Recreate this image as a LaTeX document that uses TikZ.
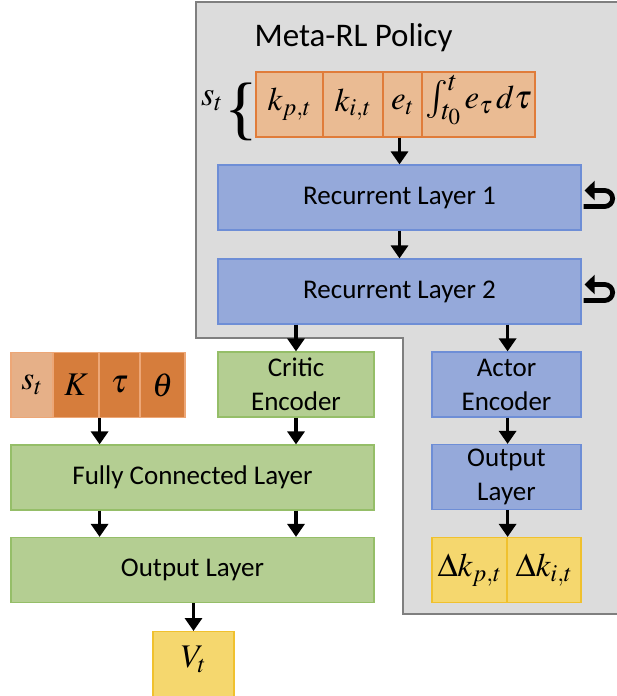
\documentclass[tikz,border=0pt]{standalone}
\usepackage{mathptmx}
\usepackage[no-math]{fontspec}
\setmainfont{Carlito}
\newfontfamily\bracefont{Liberation Serif}
\usetikzlibrary{arrows.meta,calc}
\definecolor{bggray}{HTML}{DCDCDC}
\definecolor{bgline}{HTML}{7F7F7F}
\definecolor{orl}{HTML}{EABB93}
\definecolor{orlline}{HTML}{E07C3A}
\definecolor{orm}{HTML}{E6B088}
\definecolor{ord}{HTML}{D67D3C}
\definecolor{ordline}{HTML}{EDA777}
\definecolor{bluef}{HTML}{95A9DA}
\definecolor{bluel}{HTML}{6E8ED6}
\definecolor{greenf}{HTML}{B4CE92}
\definecolor{greenl}{HTML}{95BE68}
\definecolor{yelf}{HTML}{F5D76E}
\definecolor{yell}{HTML}{F0C12E}
\begin{document}
\begin{tikzpicture}[x=1pt,y=1pt,
  box/.style={draw,line width=1.2pt,inner sep=0pt,minimum height=65pt,align=center,
    font=\fontsize{27}{34}\selectfont},
  mcell/.style={draw,line width=1.2pt,inner sep=0pt,minimum height=65pt,
    font=\fontsize{33}{38}\selectfont},
  stcell/.style={mcell,fill=orl,draw=orlline},
  lcell/.style={mcell,fill=ord,draw=ordline},
  ycell/.style={mcell,fill=yelf,draw=yell},
  bluebox/.style={box,fill=bluef,draw=bluel},
  greenbox/.style={box,fill=greenf,draw=greenl},
  arr/.style={line width=3.2pt,-{Triangle[width=17pt,length=13pt]}},
  looparr/.style={line width=4.8pt,-{Triangle[width=19pt,length=10pt]}}
]
\useasboundingbox (0,0) rectangle (616,-696);
\fill[white] (0,0) rectangle (616,-696);
% Meta-RL region
\filldraw[fill=bggray,draw=bgline,line width=2pt]
  (196,-2) -- (630,-2) -- (630,-614) -- (403,-614) -- (403,-338) -- (196,-338) -- cycle;
\node[font=\fontsize{33}{40}\selectfont,anchor=west] (title) at (251,-38) {Meta-RL Policy};
% state vector
\node[font=\fontsize{34}{40}\selectfont] (slab) at (212,-101) {$s_t$};
\node[font=\bracefont\fontsize{70}{72}\selectfont,inner sep=0pt] (brace) at (241,-112) {\{};
\node[stcell,minimum width=67pt] (kp) at (289.5,-104.5) {$k_{p,t}$};
\node[stcell,minimum width=60pt] (ki) at (353,-104.5) {$k_{i,t}$};
\node[stcell,minimum width=39pt] (et) at (402.5,-104.5) {$e_t$};
\node[stcell,minimum width=113pt,text height=22pt,text depth=14pt] (int) at (478.5,-104.5) {{\fontsize{38}{38}\selectfont$\int_{t_0}^{t}$}$\,e_\tau\, d\tau$};
% recurrent layers
\node[bluebox,minimum width=363pt] (rec1) at (399.5,-197.5) {Recurrent Layer 1};
\node[bluebox,minimum width=363pt] (rec2) at (399.5,-291.5) {Recurrent Layer 2};
% actor branch
\node[bluebox,minimum width=149pt] (actor) at (506.5,-384.5) {Actor\\Encoder};
\node[bluebox,minimum width=149pt] (aout) at (506.5,-477) {Output\\Layer};
\node[ycell,minimum width=75pt] (dkp) at (469.5,-570) {$\Delta k_{p,t}$};
\node[ycell,minimum width=74pt] (dki) at (544,-570) {$\Delta k_{i,t}$};
% critic branch
\node[greenbox,minimum width=156pt] (critic) at (296,-384.5) {Critic\\Encoder};
\node[mcell,fill=orm,draw=ordline,minimum width=42pt] (s2) at (32,-385) {$s_t$};
\node[lcell,minimum width=46pt] (K) at (76,-385) {$K$};
\node[lcell,minimum width=41pt] (tau) at (119.5,-385) {$\tau$};
\node[lcell,minimum width=45pt] (theta) at (162.5,-385) {$\theta$};
\node[greenbox,minimum width=363pt] (fc) at (192.5,-477.5) {Fully Connected Layer};
\node[greenbox,minimum width=363pt] (gout) at (192.5,-570) {Output Layer};
\node[ycell,minimum width=81pt,minimum height=70pt,anchor=north,text depth=20pt,text height=22pt] (vt) at (193.5,-631) {$V_t$};
% connectors
\draw[arr] (et.south -| rec1.north) -- (rec1.north);
\draw[arr] (rec1.south) -- (rec2.north);
\draw[arr] (rec2.south -| critic.north) -- (critic.north);
\draw[arr] (rec2.south -| dkp.north east) -- (dkp.north east |- actor.north);
\draw[arr] (actor.south -| dkp.north east) -- (dkp.north east |- aout.north);
\draw[arr] (aout.south -| dkp.north east) -- (dkp.north east);
\draw[arr] (K.south east) -- (K.south east |- fc.north);
\draw[arr] (critic.south) -- (critic.south |- fc.north);
\draw[arr] (fc.south -| K.south east) -- (K.south east |- gout.north);
\draw[arr] (fc.south -| critic.south) -- (critic.south |- gout.north);
\draw[arr] (gout.south -| vt.north) -- (vt.north);
% recurrence loops
\draw[looparr] ($(rec1.east)+(2,-9)$) -- ++(21,0) arc (-90:90:8) -- ++(-20,0);
\draw[looparr] ($(rec2.east)+(2,-9)$) -- ++(21,0) arc (-90:90:8) -- ++(-20,0);
\end{tikzpicture}
\end{document}
